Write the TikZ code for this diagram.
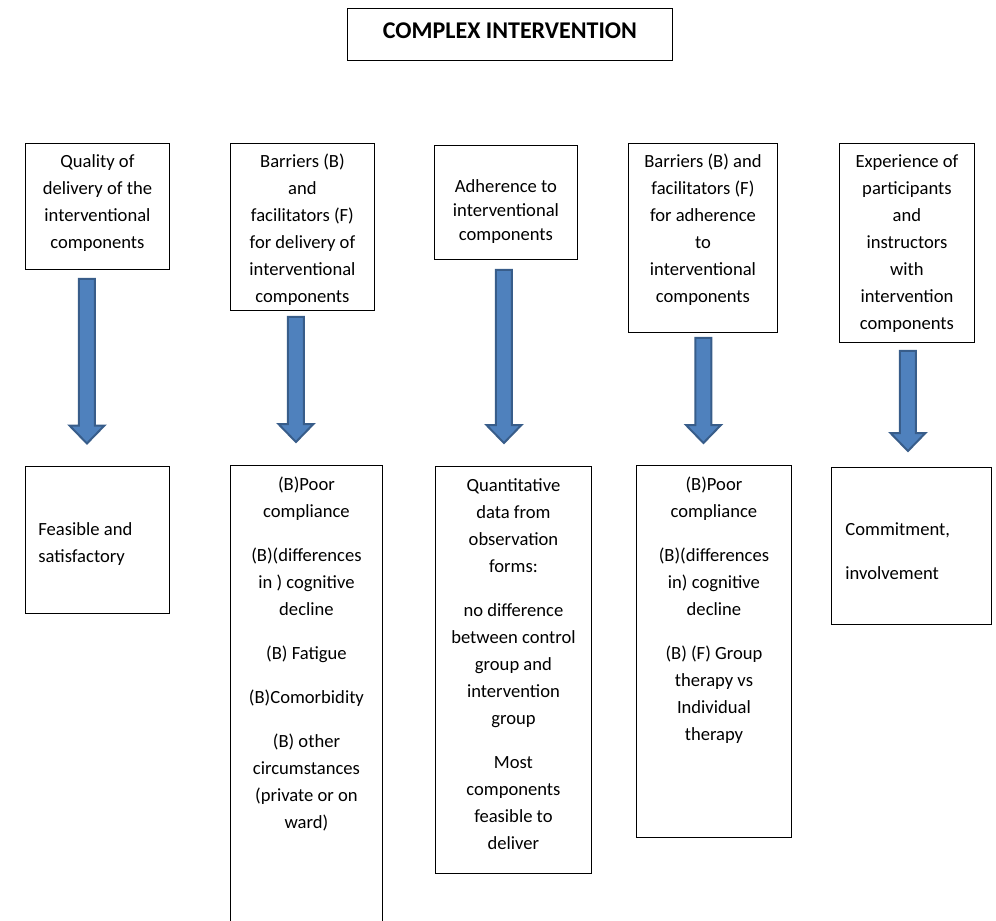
\documentclass[tikz,border=0pt]{standalone}
\usepackage{fontspec}
\setmainfont{Carlito}
\usepackage{tikz}
\usetikzlibrary{calc}

\definecolor{arrowfill}{HTML}{4F81BD}
\definecolor{arrowline}{HTML}{385D8A}

% width, height, first baseline, text
\newcommand{\boxtext}[5][\centering]{%
  \begin{minipage}[b][#3][t]{#2}#1\rule{0pt}{#4}#5\end{minipage}}

\begin{document}
\begin{tikzpicture}[x=1pt,y=-1pt,
    box/.style={draw, line width=0.9pt, inner sep=0pt, anchor=north west,
      font=\fontsize{18.6}{27}\selectfont},
    blockarrow/.style={draw=arrowline, fill=arrowfill, line width=2pt,
      to path={let \p1=(\tikztostart), \p2=(\tikztotarget) in
        (\x1-8pt,\y1) -- (\x1+8pt,\y1) -- (\x1+8pt,\y2+18pt)
        -- (\x1+17.5pt,\y2+18pt) -- (\x1,\y2) -- (\x1-17.5pt,\y2+18pt)
        -- (\x1-8pt,\y2+18pt) -- cycle}}]
    \useasboundingbox (0,0) rectangle (996,921);
    \clip (0,0) rectangle (996,921);

    \node[box, font=\fontsize{24}{28}\selectfont\bfseries] (title) at (347,8)
        {\boxtext{325pt}{52pt}{30.5pt}{COMPLEX INTERVENTION}};

    % process evaluation themes
    \node[box] (q1) at (25,143) {\boxtext{144pt}{126pt}{24pt}{Quality of\\
        delivery of the\\ interventional\\ components}};
    \node[box] (q2) at (230,143) {\boxtext{144pt}{167pt}{24pt}{Barriers (B)\\
        and\\ facilitators (F)\\ for delivery of\\ interventional\\ components}};
    \node[box, font=\fontsize{18.6}{24}\selectfont] (q3) at (434,145)
        {\boxtext{143pt}{114pt}{47pt}{Adherence to\\ interventional\\ components}};
    \node[box] (q4) at (628,143) {\boxtext{149pt}{189pt}{24pt}{Barriers (B) and\\
        facilitators (F)\\ for adherence\\ to\\ interventional\\ components}};
    \node[box] (q5) at (839,143) {\boxtext{135pt}{199pt}{24pt}{Experience of\\
        participants\\ and\\ instructors\\ with\\ intervention\\ components}};

    % findings
    \node[box] (r1) at (25,466) {\boxtext[\raggedright\leftskip=13pt]{144pt}{147pt}{69pt}{Feasible and\\
        satisfactory}};
    \node[box] (r2) at (230,465) {\boxtext{152pt}{480pt}{25pt}{(B)Poor\\ compliance\\[17pt]
        (B)(differences\\ in ) cognitive\\ decline\\[17pt]
        (B) Fatigue\\[17pt]
        (B)Comorbidity\\[17pt]
        (B) other\\ circumstances\\ (private or on\\ ward)}};
    \node[box] (r3) at (435,466) {\boxtext{156pt}{407pt}{25pt}{Quantitative\\ data from\\
        observation\\ forms:\\[17pt]
        no difference\\ between control\\ group and\\ intervention\\ group\\[17pt]
        Most\\ components\\ feasible to\\ deliver}};
    \node[box] (r4) at (636,465) {\boxtext{155pt}{372pt}{25pt}{(B)Poor\\ compliance\\[17pt]
        (B)(differences\\ in) cognitive\\ decline\\[17pt]
        (B) (F) Group\\ therapy vs\\ Individual\\ therapy}};
    \node[box] (r5) at (831,467) {\boxtext[\raggedright\leftskip=14pt]{160pt}{157pt}{68pt}{Commitment,\\[17pt]
        involvement}};

    \draw[blockarrow] ([xshift=-10.5pt,yshift=-9pt]q1.south) to ([yshift=22.5pt]r1.north);
    \draw[blockarrow] ([xshift=-6.5pt,yshift=-6pt]q2.south) to ([yshift=23pt]r2.north);
    \draw[blockarrow] ([xshift=-2pt,yshift=-10pt]q3.south) to ([yshift=23pt]r3.north);
    \draw[blockarrow] ([xshift=0.5pt,yshift=-5pt]q4.south) to ([yshift=22pt]r4.north);
    \draw[blockarrow] ([xshift=1pt,yshift=-8pt]q5.south) to ([yshift=16pt]r5.north);
\end{tikzpicture}
\end{document}
